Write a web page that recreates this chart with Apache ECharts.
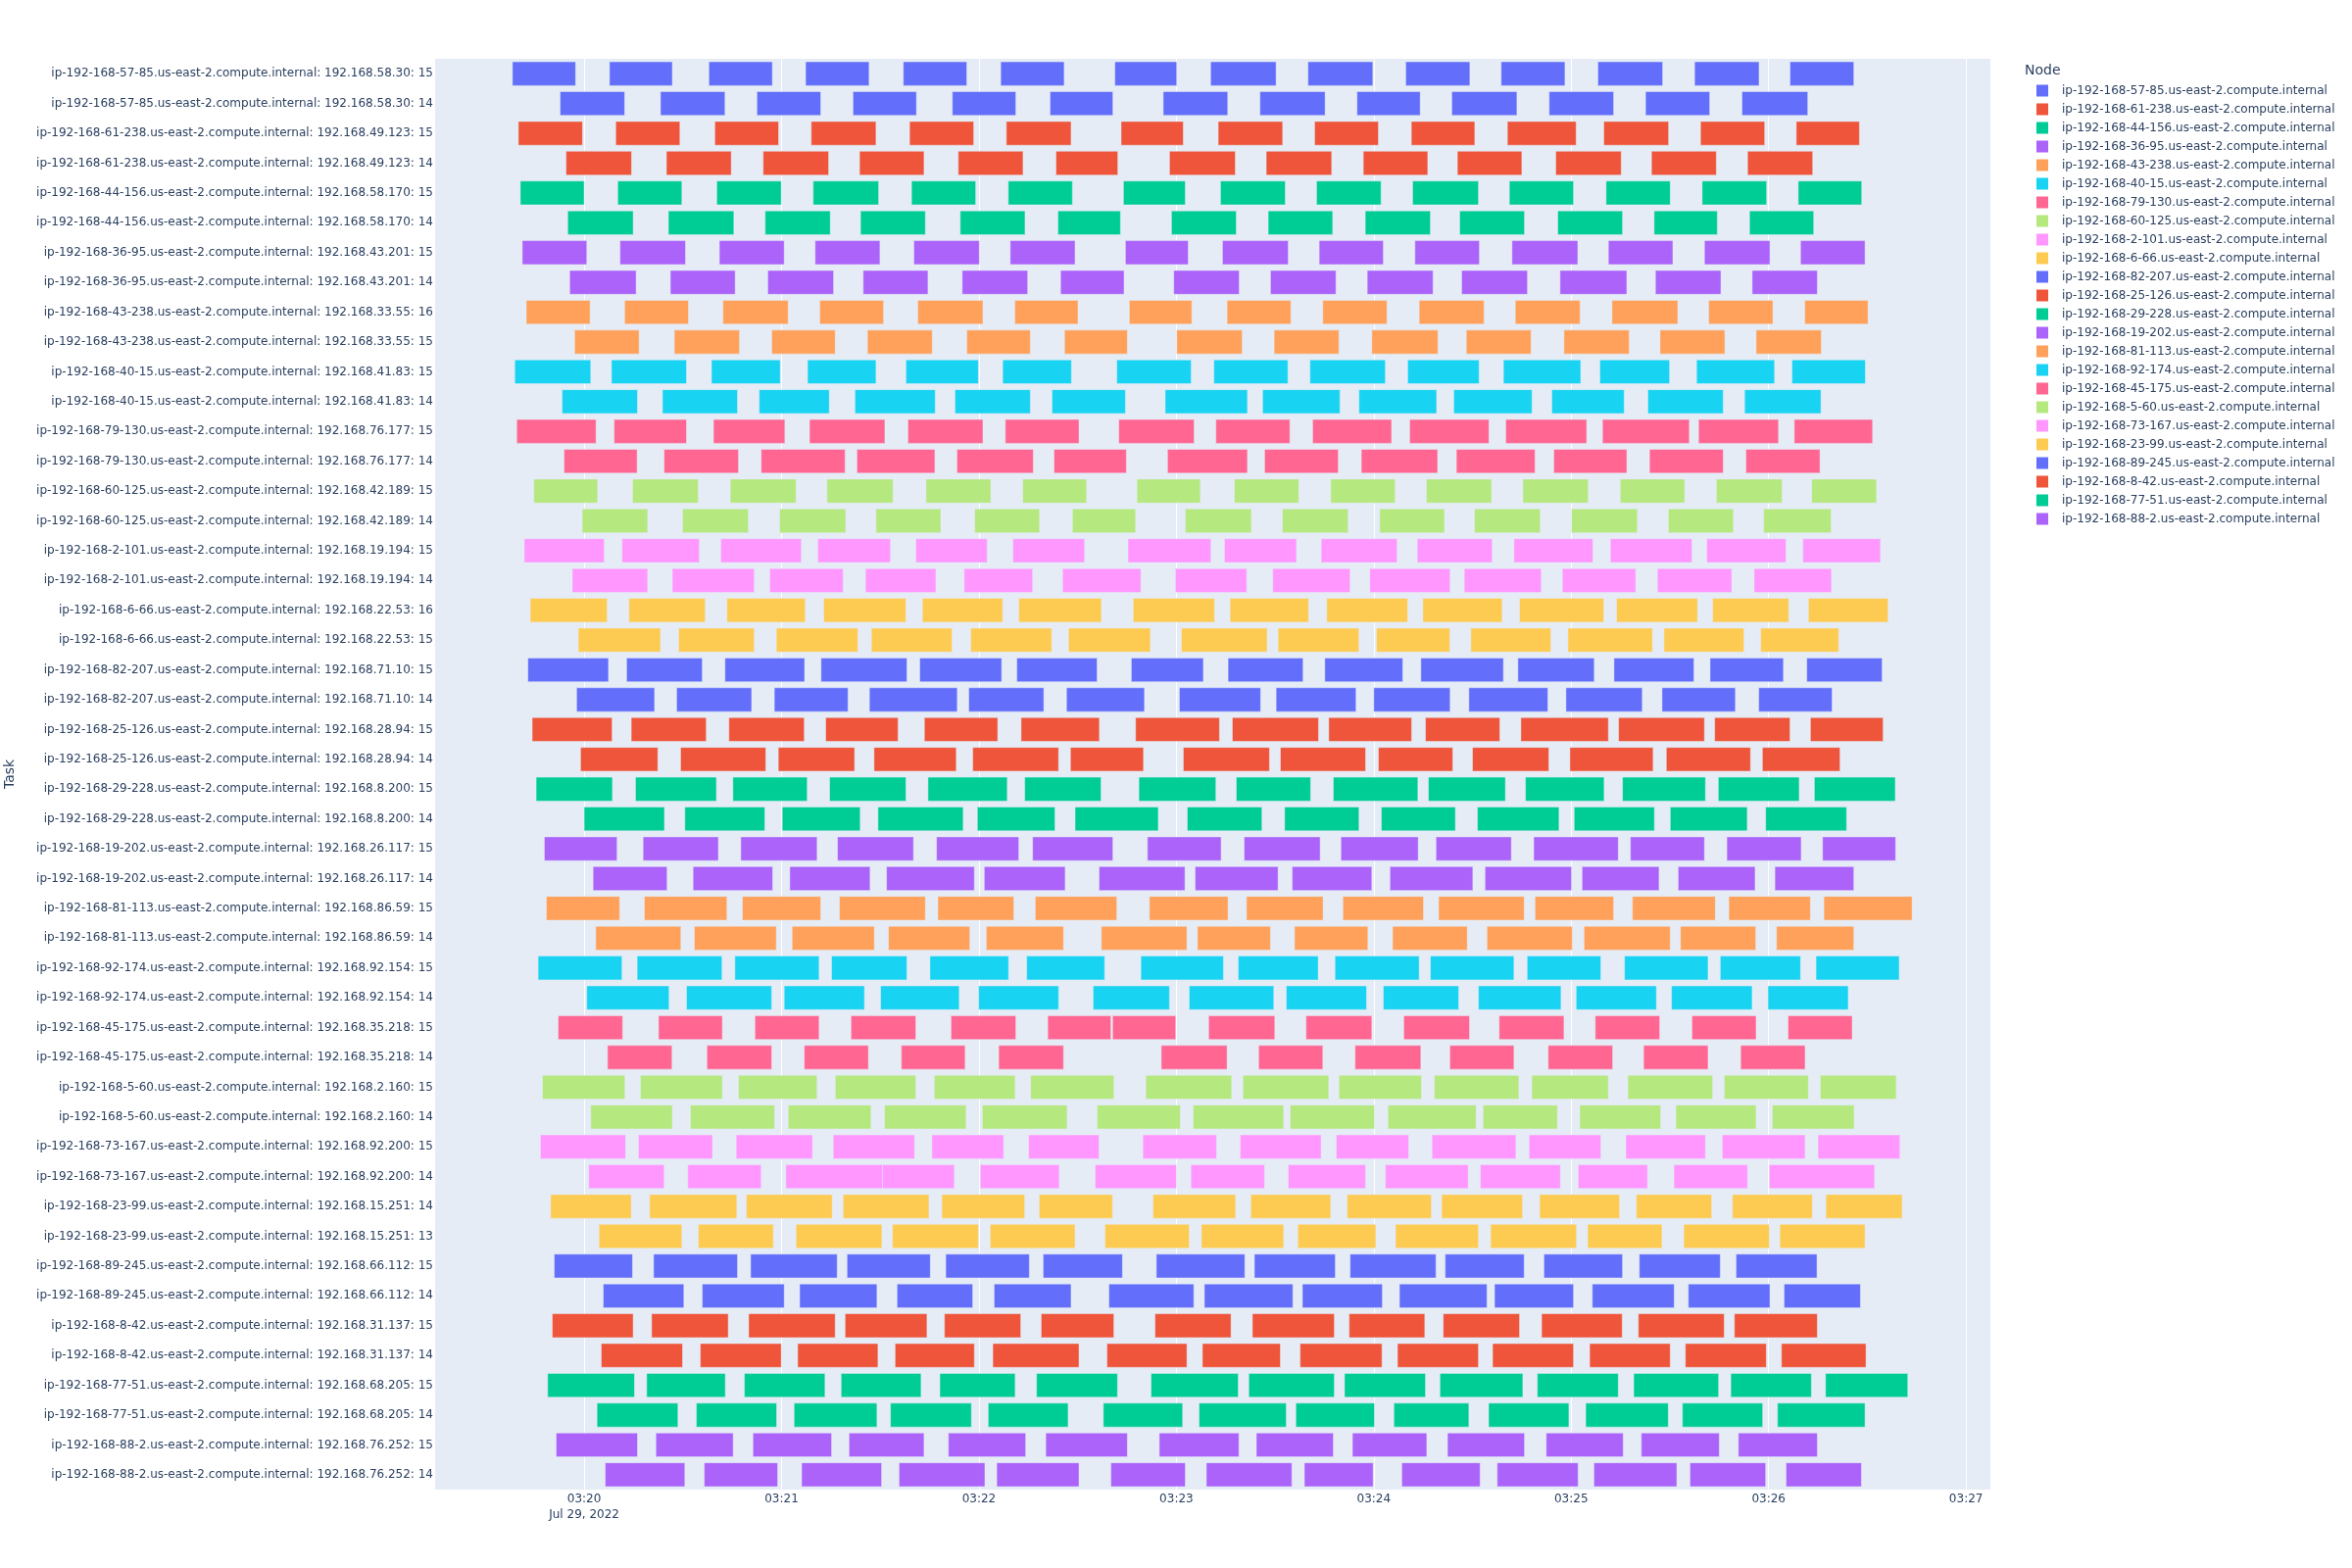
<!DOCTYPE html>
<html><head><meta charset="utf-8">
<script src="https://cdn.jsdelivr.net/npm/echarts@6/dist/echarts.min.js"></script>
<style>html,body{margin:0;padding:0;background:#fff}#chart{width:2400px;height:1600px}</style>
</head><body><div id="chart"></div>
<script>
// ---- data ----
const nodeNames = [
"ip-192-168-57-85.us-east-2.compute.internal","ip-192-168-61-238.us-east-2.compute.internal",
"ip-192-168-44-156.us-east-2.compute.internal","ip-192-168-36-95.us-east-2.compute.internal",
"ip-192-168-43-238.us-east-2.compute.internal","ip-192-168-40-15.us-east-2.compute.internal",
"ip-192-168-79-130.us-east-2.compute.internal","ip-192-168-60-125.us-east-2.compute.internal",
"ip-192-168-2-101.us-east-2.compute.internal","ip-192-168-6-66.us-east-2.compute.internal",
"ip-192-168-82-207.us-east-2.compute.internal","ip-192-168-25-126.us-east-2.compute.internal",
"ip-192-168-29-228.us-east-2.compute.internal","ip-192-168-19-202.us-east-2.compute.internal",
"ip-192-168-81-113.us-east-2.compute.internal","ip-192-168-92-174.us-east-2.compute.internal",
"ip-192-168-45-175.us-east-2.compute.internal","ip-192-168-5-60.us-east-2.compute.internal",
"ip-192-168-73-167.us-east-2.compute.internal","ip-192-168-23-99.us-east-2.compute.internal",
"ip-192-168-89-245.us-east-2.compute.internal","ip-192-168-8-42.us-east-2.compute.internal",
"ip-192-168-77-51.us-east-2.compute.internal","ip-192-168-88-2.us-east-2.compute.internal"];
const taskNode = [0,0,1,1,2,2,3,3,4,4,5,5,6,6,7,7,8,8,9,9,10,10,11,11,12,12,13,13,14,14,15,15,16,16,17,17,18,18,19,19,20,20,21,21,22,22,23,23];
const taskIPs = ["192.168.58.30","192.168.58.30","192.168.49.123","192.168.49.123","192.168.58.170","192.168.58.170","192.168.43.201","192.168.43.201","192.168.33.55","192.168.33.55","192.168.41.83","192.168.41.83","192.168.76.177","192.168.76.177","192.168.42.189","192.168.42.189","192.168.19.194","192.168.19.194","192.168.22.53","192.168.22.53","192.168.71.10","192.168.71.10","192.168.28.94","192.168.28.94","192.168.8.200","192.168.8.200","192.168.26.117","192.168.26.117","192.168.86.59","192.168.86.59","192.168.92.154","192.168.92.154","192.168.35.218","192.168.35.218","192.168.2.160","192.168.2.160","192.168.92.200","192.168.92.200","192.168.15.251","192.168.15.251","192.168.66.112","192.168.66.112","192.168.31.137","192.168.31.137","192.168.68.205","192.168.68.205","192.168.76.252","192.168.76.252"];
const taskNums = [15,14,15,14,15,14,15,14,16,15,15,14,15,14,15,14,15,14,16,15,15,14,15,14,15,14,15,14,15,14,15,14,15,14,15,14,15,14,14,13,15,14,15,14,15,14,15,14];
// seconds after 2022-07-29 03:20:00, [start, end] for each bar of each task
const taskBars = [
[[-21.8,-2.6],[7.7,26.8],[37.9,57.2],[67.3,86.6],[97.0,116.3],[126.6,145.9],[161.3,180.1],[190.4,210.3],[220.0,239.7],[249.7,269.2],[278.7,298.1],[308.1,327.8],[337.5,357.1],[366.5,385.9]],
[[-7.3,12.3],[23.2,42.8],[52.5,71.9],[81.7,101.0],[111.9,131.2],[141.6,160.7],[176.0,195.6],[205.4,225.2],[234.9,254.1],[263.7,283.5],[293.3,312.9],[322.6,342.1],[351.9,371.9]],
[[-20.0,-0.5],[9.6,29.1],[39.7,59.1],[69.0,88.7],[98.9,118.4],[128.3,148.0],[163.2,182.1],[192.7,212.3],[222.0,241.4],[251.4,270.7],[280.6,301.5],[309.9,329.6],[339.3,358.8],[368.4,387.6]],
[[-5.5,14.4],[25.0,44.7],[54.4,74.3],[83.7,103.3],[113.7,133.4],[143.4,162.2],[177.9,197.9],[207.3,227.2],[236.8,256.4],[265.4,285.0],[295.3,315.2],[324.4,344.1],[353.6,373.4]],
[[-19.4,0.0],[10.2,29.7],[40.3,59.9],[69.6,89.5],[99.5,119.0],[128.9,148.4],[163.9,182.7],[193.4,213.1],[222.6,242.2],[251.8,271.8],[281.2,300.7],[310.6,330.1],[339.8,359.4],[369.0,388.3]],
[[-5.0,14.9],[25.6,45.5],[55.0,74.8],[84.0,103.7],[114.3,134.0],[144.0,163.0],[178.5,198.2],[207.9,227.5],[237.4,257.2],[266.1,285.8],[295.9,315.6],[325.2,344.4],[354.2,373.7]],
[[-18.8,0.8],[10.9,30.8],[41.1,60.8],[70.2,89.9],[100.2,120.1],[129.5,149.2],[164.5,183.6],[194.0,214.0],[223.4,242.9],[252.5,272.1],[282.0,302.0],[311.3,330.9],[340.5,360.4],[369.7,389.3]],
[[-4.4,15.8],[26.2,45.9],[55.8,75.8],[84.8,104.5],[114.9,134.8],[144.8,164.1],[179.2,199.1],[208.6,228.5],[238.0,258.0],[266.7,286.7],[296.6,316.9],[325.6,345.5],[355.0,374.8]],
[[-17.6,1.8],[12.3,31.7],[42.2,62.0],[71.6,91.0],[101.4,121.2],[130.9,150.1],[165.7,184.7],[195.4,214.8],[224.5,244.0],[253.8,273.5],[283.0,302.7],[312.4,332.4],[341.8,361.3],[371.0,390.2]],
[[-2.9,16.7],[27.4,47.2],[57.0,76.3],[86.1,105.8],[116.3,135.6],[146.0,165.1],[180.1,200.0],[209.7,229.4],[239.4,259.5],[268.1,287.8],[297.8,317.6],[327.0,346.7],[356.2,376.0]],
[[-21.1,2.0],[8.3,31.1],[38.7,59.6],[67.9,88.7],[97.8,119.8],[127.2,148.1],[161.9,184.5],[191.4,213.9],[220.6,243.5],[250.3,272.0],[279.4,302.9],[308.7,329.9],[338.1,361.8],[367.1,389.4]],
[[-6.7,16.2],[23.8,46.6],[53.2,74.5],[82.3,106.7],[112.7,135.6],[142.2,164.5],[176.6,201.6],[206.2,229.7],[235.5,259.1],[264.3,288.1],[294.1,316.1],[323.3,346.2],[352.7,375.9]],
[[-20.5,3.6],[9.1,31.1],[39.3,61.0],[68.5,91.4],[98.4,121.2],[128.0,150.4],[162.5,185.4],[192.0,214.5],[221.4,245.4],[250.9,275.0],[280.1,304.7],[309.5,335.9],[338.7,363.0],[367.8,391.6]],
[[-6.1,16.1],[24.3,46.9],[53.8,79.3],[82.9,106.6],[113.3,136.5],[142.8,164.8],[177.3,201.6],[206.8,229.2],[236.2,259.4],[265.1,289.0],[294.7,316.9],[323.8,346.2],[353.1,375.6]],
[[-15.3,4.1],[14.7,34.7],[44.4,64.4],[73.8,93.9],[103.9,123.6],[133.3,152.7],[168.0,187.3],[197.6,217.2],[226.9,246.5],[256.0,275.8],[285.3,305.2],[314.9,334.5],[344.1,364.1],[373.1,392.8]],
[[-0.6,19.3],[29.9,49.9],[59.4,79.5],[88.7,108.4],[118.7,138.4],[148.4,167.6],[182.7,202.8],[212.2,232.2],[241.8,261.5],[270.6,290.6],[300.1,320.1],[329.5,349.3],[358.5,379.0]],
[[-18.2,6.1],[11.5,35.0],[41.5,66.0],[71.0,93.1],[100.8,122.5],[130.3,152.1],[165.3,190.5],[194.6,216.5],[224.0,247.1],[253.2,276.0],[282.6,306.6],[311.9,336.7],[341.2,365.3],[370.4,394.0]],
[[-3.6,19.3],[26.8,51.7],[56.4,78.7],[85.5,106.9],[115.5,136.3],[145.4,169.2],[179.7,201.4],[209.3,232.8],[238.8,263.2],[267.5,290.9],[297.3,319.6],[326.2,348.8],[355.6,379.1]],
[[-16.4,7.0],[13.6,36.8],[43.4,67.2],[72.8,97.8],[102.8,127.2],[132.1,157.2],[166.9,191.6],[196.3,220.2],[225.7,250.3],[254.9,279.0],[284.3,309.9],[313.8,338.4],[343.0,366.1],[372.1,396.3]],
[[-1.8,23.2],[28.7,51.7],[58.4,83.2],[87.3,111.8],[117.5,142.1],[147.2,172.1],[181.5,207.6],[210.9,235.5],[240.8,263.1],[269.5,293.8],[299.0,324.7],[328.2,352.5],[357.6,381.3]],
[[-17.1,7.4],[12.9,35.9],[42.8,67.0],[72.0,98.1],[102.0,126.9],[131.5,155.9],[166.3,188.2],[195.7,218.5],[225.1,248.8],[254.3,279.4],[283.8,307.0],[313.0,337.3],[342.2,364.5],[371.6,394.5]],
[[-2.3,21.4],[28.1,50.9],[57.8,80.2],[86.7,113.4],[116.9,139.7],[146.6,170.3],[180.9,205.6],[210.3,234.6],[240.0,263.2],[268.9,292.9],[298.4,321.6],[327.6,349.9],[357.0,379.3]],
[[-15.8,8.5],[14.3,37.1],[44.0,66.9],[73.4,95.4],[103.4,125.7],[132.8,156.6],[167.6,193.1],[197.0,223.2],[226.3,251.5],[255.7,278.3],[284.7,311.3],[314.4,340.5],[343.6,366.5],[372.7,394.8]],
[[-1.1,22.4],[29.3,55.2],[59.0,82.2],[88.1,113.1],[118.1,144.2],[147.8,170.0],[182.1,208.3],[211.6,237.5],[241.4,264.0],[270.0,293.2],[299.6,324.9],[328.9,354.5],[358.1,381.7]],
[[-14.6,8.6],[15.6,40.2],[45.2,67.8],[74.6,97.8],[104.5,128.6],[133.9,157.1],[168.6,192.0],[198.2,220.8],[227.7,253.4],[256.6,280.0],[286.1,310.0],[315.6,340.8],[344.7,369.3],[373.9,398.5]],
[[0.0,24.4],[30.6,54.9],[60.2,83.9],[89.3,115.2],[119.5,143.1],[149.2,174.5],[183.3,206.0],[212.9,235.5],[242.3,264.8],[271.5,296.3],[300.9,325.3],[330.1,353.5],[359.1,383.7]],
[[-12.1,10.0],[17.9,40.8],[47.6,70.8],[77.0,100.1],[107.1,132.1],[136.3,160.7],[171.2,193.6],[200.6,223.7],[230.0,253.5],[258.9,281.8],[288.6,314.3],[318.0,340.5],[347.3,369.9],[376.4,398.6]],
[[2.7,25.2],[33.1,57.3],[62.5,86.9],[91.9,118.6],[121.6,146.2],[156.5,182.6],[185.7,210.9],[215.2,239.4],[244.9,270.1],[273.8,300.1],[303.3,326.7],[332.5,355.9],[361.9,385.9]],
[[-11.5,10.8],[18.3,43.4],[48.1,71.9],[77.6,103.7],[107.5,130.6],[137.1,161.9],[171.8,195.7],[201.3,224.6],[230.6,255.1],[259.7,285.7],[289.0,312.9],[318.6,343.8],[347.9,372.7],[376.8,403.6]],
[[3.5,29.4],[33.5,58.4],[63.2,88.2],[92.5,117.2],[122.2,145.7],[157.2,183.2],[186.4,208.6],[215.9,238.2],[245.7,268.4],[274.4,300.3],[303.9,330.1],[333.2,356.1],[362.4,385.9]],
[[-14.0,11.5],[16.1,41.9],[45.8,71.4],[75.2,98.1],[105.1,129.0],[134.5,158.2],[169.2,194.3],[198.8,223.1],[228.2,253.8],[257.2,282.6],[286.6,309.0],[316.2,341.6],[345.3,369.7],[374.4,399.7]],
[[0.8,25.8],[31.1,57.0],[60.8,85.2],[90.1,114.0],[119.9,144.2],[154.7,177.9],[183.9,209.6],[213.4,237.8],[242.9,265.8],[271.8,296.9],[301.5,325.9],[330.5,355.0],[359.8,384.2]],
[[-7.9,11.7],[22.6,42.0],[51.9,71.4],[81.1,100.8],[111.5,131.2],[140.9,160.1],[160.6,179.8],[189.8,209.9],[219.4,239.4],[249.1,269.1],[278.1,297.8],[307.3,326.9],[336.7,356.2],[365.9,385.4]],
[[7.1,26.7],[37.3,57.0],[66.9,86.4],[96.4,115.8],[126.0,145.7],[175.4,195.4],[205.0,224.5],[234.3,254.3],[263.1,282.6],[293.0,312.6],[322.0,341.6],[351.5,371.1]],
[[-12.7,12.4],[17.1,42.0],[46.9,70.8],[76.3,100.8],[106.4,131.0],[135.7,161.0],[170.7,196.8],[200.2,226.3],[229.4,254.5],[258.4,284.1],[288.0,311.3],[317.2,343.0],[346.5,372.1],[375.7,398.8]],
[[2.0,26.8],[32.3,57.9],[62.0,87.2],[91.3,116.1],[121.0,146.8],[155.9,181.2],[185.1,212.6],[214.6,240.2],[244.3,271.1],[273.2,295.8],[302.6,327.2],[331.8,356.2],[361.1,386.0]],
[[-13.3,12.6],[16.5,39.0],[46.2,69.4],[75.7,100.4],[105.7,127.5],[135.1,156.5],[169.8,192.2],[199.4,224.0],[228.6,250.6],[257.7,283.2],[287.2,309.0],[316.6,340.8],[345.9,371.1],[375.0,399.9]],
[[1.4,24.3],[31.5,53.8],[61.3,90.7],[90.7,112.5],[120.4,144.4],[155.3,180.0],[184.4,206.8],[214.0,237.5],[243.5,268.7],[272.4,296.7],[302.1,323.2],[331.2,353.6],[360.2,392.2]],
[[-10.2,14.3],[19.9,46.4],[49.3,75.4],[78.7,104.8],[108.7,133.9],[138.3,160.6],[172.9,198.0],[202.6,226.9],[231.9,257.5],[260.6,285.2],[290.4,314.7],[319.8,342.7],[349.0,373.3],[377.4,400.6]],
[[4.5,29.7],[34.7,57.5],[64.4,90.5],[93.7,119.8],[123.4,149.2],[158.3,183.9],[187.6,212.6],[216.9,240.6],[246.6,271.8],[275.5,301.6],[305.0,327.6],[334.2,360.2],[363.4,389.3]],
[[-9.1,14.7],[21.1,46.6],[50.6,76.9],[79.9,105.2],[109.9,135.3],[139.5,163.6],[173.9,200.8],[203.7,228.3],[232.8,258.9],[261.7,285.7],[291.7,315.6],[320.7,345.3],[350.1,374.7]],
[[5.8,30.3],[35.9,60.8],[65.5,89.0],[95.1,118.1],[124.6,148.0],[159.5,185.3],[188.5,215.4],[218.3,242.6],[247.8,274.4],[276.7,300.7],[306.4,331.3],[335.6,360.4],[364.7,387.9]],
[[-9.7,14.9],[20.5,43.8],[50.0,76.3],[79.3,104.2],[109.5,132.7],[138.9,161.0],[173.5,196.6],[203.1,228.0],[232.5,255.5],[261.1,284.3],[291.0,315.5],[320.4,346.5],[349.6,374.8]],
[[5.2,29.9],[35.3,59.9],[64.9,89.3],[94.5,118.6],[124.2,150.4],[158.9,183.2],[187.9,211.6],[217.6,242.5],[247.2,271.8],[276.1,300.7],[305.6,330.1],[334.7,359.3],[363.9,389.6]],
[[-11.1,15.3],[19.0,42.9],[48.7,73.2],[78.1,102.4],[108.1,131.0],[137.5,162.1],[172.3,198.8],[202.0,228.0],[231.1,255.7],[260.1,285.3],[289.7,314.3],[319.0,344.8],[348.5,373.0],[377.3,402.3]],
[[3.9,28.5],[34.1,58.5],[63.8,89.0],[93.1,117.7],[122.8,147.1],[157.8,181.9],[186.9,213.4],[216.3,240.2],[246.1,268.9],[274.9,299.3],[304.4,329.5],[333.8,358.2],[362.7,389.3]],
[[-8.5,16.2],[21.8,45.3],[51.3,75.2],[80.5,103.3],[110.7,134.2],[140.3,165.1],[174.8,199.0],[204.3,227.7],[233.5,256.1],[262.4,285.8],[292.4,315.8],[321.3,345.0],[350.8,374.8]],
[[6.4,30.6],[36.5,58.8],[66.1,90.4],[95.7,121.8],[125.4,150.4],[160.1,182.7],[189.1,215.1],[218.9,239.8],[248.5,272.3],[277.5,302.1],[306.9,332.1],[336.1,359.1],[365.3,388.2]]
];
// x-axis tick labels (minutes after 03:20)
const tickMinutes = [0,1,2,3,4,5,6,7];
const palette = ['#636EFA','#EF553B','#00CC96','#AB63FA','#FFA15A','#19D3F3','#FF6692','#B6E880','#FF97FF','#FECB52'];

// ---- build ----
const BASE = Date.UTC(2022,6,29,3,20,0);
const taskLabels = taskIPs.map((ip,i)=> nodeNames[taskNode[i]] + ': ' + ip + ': ' + taskNums[i]);
const FONT = '"DejaVu Sans", Verdana, sans-serif';
const TXT = '#2a3f5f';

function renderItem(params, api) {
  const cat = api.value(2);
  const p0 = api.coord([api.value(0), cat]);
  const p1 = api.coord([api.value(1), cat]);
  const h = api.size([0, 1])[1] * 0.8;
  return {
    type: 'rect',
    shape: {x: p0[0], y: p0[1] - h/2, width: p1[0] - p0[0], height: h},
    style: {fill: api.visual('color'), stroke: '#E5ECF6', lineWidth: 0.5}
  };
}

const series = nodeNames.map((name, ni) => ({
  name, type: 'custom', renderItem,
  encode: {x: [0, 1], y: 2},
  itemStyle: {color: palette[ni % 10]},
  data: []
}));
taskBars.forEach((bars, ti) => {
  bars.forEach(b => series[taskNode[ti]].data.push([BASE + b[0]*1000, BASE + b[1]*1000, ti]));
});

const tickVals = tickMinutes.map(m => BASE + m*60000);
function pad(n){ return (n<10?'0':'') + n; }

const chart = echarts.init(document.getElementById('chart'), null, {renderer: 'canvas'});
chart.setOption({
  animation: false,
  backgroundColor: '#ffffff',
  title: {text: 'Node', left: 2066, top: 65, padding: 0,
    textStyle: {fontFamily: FONT, fontSize: 14, fontWeight: 'normal', color: TXT}},
  legend: {
    orient: 'vertical', left: 2078, top: 86.5, padding: 0,
    itemWidth: 12, itemHeight: 12, itemGap: 7, icon: 'rect',
    textStyle: {fontFamily: FONT, fontSize: 12, color: TXT, lineHeight: 12, padding: [0,0,0,9]},
    data: nodeNames
  },
  grid: {left: 444, right: 369, top: 60, bottom: 80, show: true, backgroundColor: '#E5ECF6', borderWidth: 0,
    containLabel: false, outerBoundsMode: 'none'},
  xAxis: {
    type: 'value',
    min: BASE - 45300, max: BASE + 427400,
    axisLine: {show: false}, axisTick: {show: false, customValues: tickVals},
    splitLine: {show: true, lineStyle: {color: '#ffffff', width: 1}},
    axisLabel: {
      customValues: tickVals,
      margin: 2, lineHeight: 16,
      fontFamily: FONT, fontSize: 12, color: TXT,
      formatter: function (v) {
        const d = new Date(v);
        const s = pad(d.getUTCHours()) + ':' + pad(d.getUTCMinutes());
        return (Math.abs(v - BASE) < 1) ? s + '\nJul 29, 2022' : s;
      }
    }
  },
  yAxis: {
    type: 'category', inverse: true, data: taskLabels,
    name: 'Task', nameLocation: 'middle', nameRotate: 90, nameGap: 427,
    nameTextStyle: {fontFamily: FONT, fontSize: 14, color: TXT},
    axisLine: {show: false}, axisTick: {show: false}, splitLine: {show: false},
    axisLabel: {interval: 0, margin: 2, fontFamily: FONT, fontSize: 12, color: TXT}
  },
  series
});
</script>
</body></html>
